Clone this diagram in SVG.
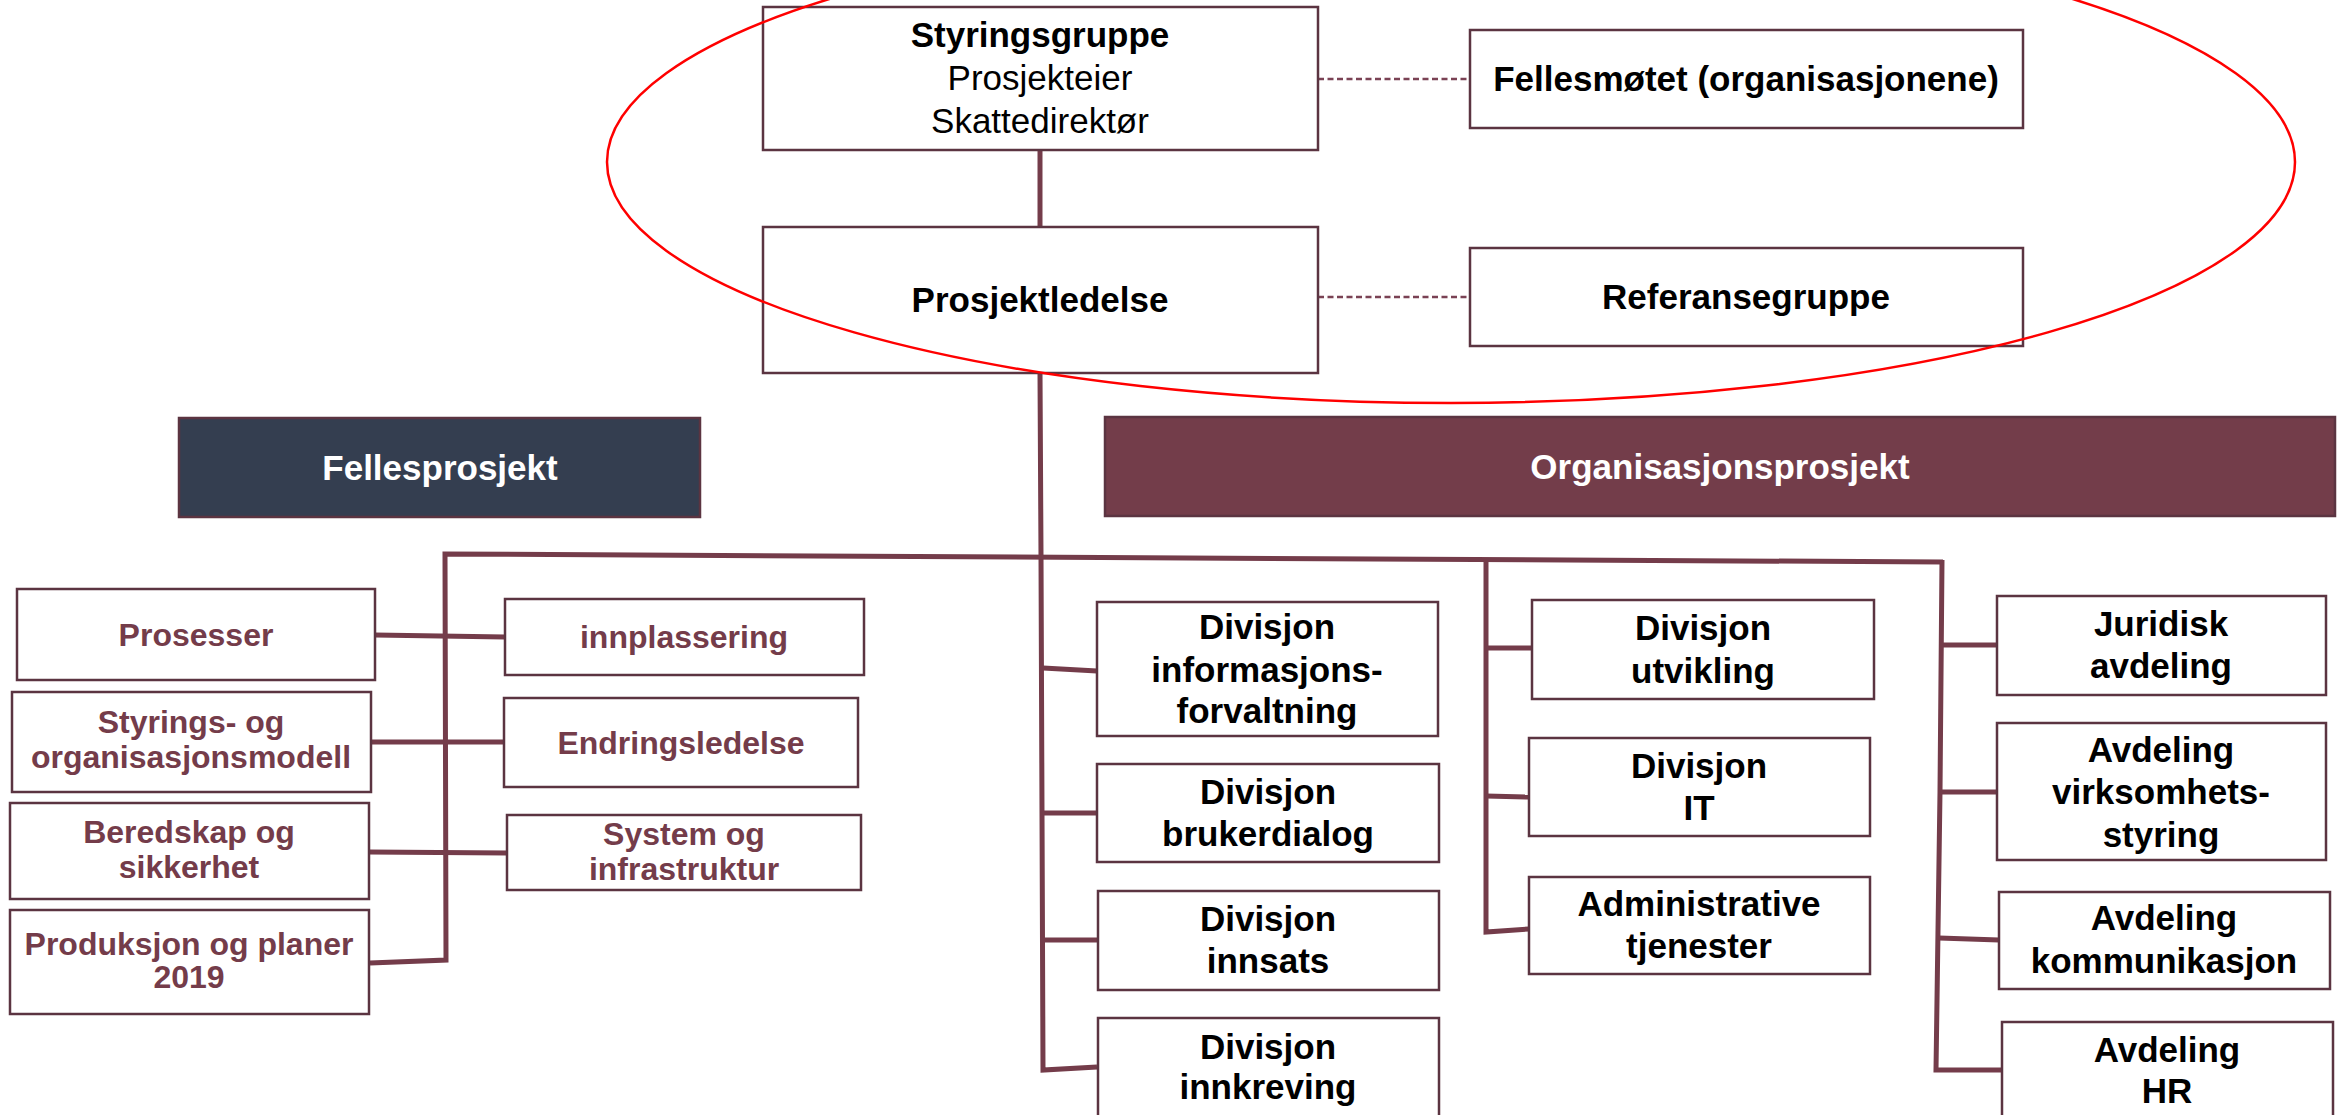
<svg xmlns="http://www.w3.org/2000/svg" width="2341" height="1115" viewBox="0 0 2341 1115">
<style>
.box{fill:#ffffff;stroke:#5b3441;stroke-width:2.5}
.t{font-family:"Liberation Sans",Arial,sans-serif;font-weight:bold;font-size:35px;fill:#000;text-anchor:middle}
.r{font-weight:normal}
.m{font-family:"Liberation Sans",Arial,sans-serif;font-weight:bold;font-size:32px;fill:#743c4a;text-anchor:middle}
.w{fill:#ffffff}
.c{fill:none;stroke:#743c4a;stroke-width:5;stroke-linejoin:miter}
.d{fill:none;stroke:#7a4254;stroke-width:2.5;stroke-dasharray:6 3.5}
</style>
<rect width="2341" height="1115" fill="#ffffff"/>
<g id="connectors">
<polyline class="c" points="1040,150 1040,227"/>
<polyline class="c" points="1040,373 1041,556 1043,1070 1097,1067"/>
<polyline class="c" points="370,963 446,960 445,554 1943,562"/>
<polyline class="c" points="1942,560 1940,792 1936,1070 2002,1070"/>
<polyline class="c" points="1486,558 1486,932 1529,929"/>
<line class="c" x1="375" y1="635" x2="505" y2="637"/>
<line class="c" x1="371" y1="742" x2="504" y2="742"/>
<line class="c" x1="369" y1="852" x2="507" y2="853"/>
<line class="c" x1="1043" y1="668" x2="1097" y2="671"/>
<line class="c" x1="1043" y1="813" x2="1097" y2="813"/>
<line class="c" x1="1043" y1="940" x2="1098" y2="940"/>
<line class="c" x1="1486" y1="648" x2="1532" y2="648"/>
<line class="c" x1="1486" y1="796" x2="1529" y2="797"/>
<line class="c" x1="1942" y1="645" x2="1997" y2="645"/>
<line class="c" x1="1940" y1="792" x2="1997" y2="792"/>
<line class="c" x1="1939" y1="938" x2="1999" y2="940"/>
<line class="d" x1="1318" y1="79" x2="1470" y2="79"/>
<line class="d" x1="1318" y1="297" x2="1470" y2="297"/>
</g>
<g id="styringsgruppe">
<rect class="box" x="763" y="7" width="555" height="143"/>
<text class="t" x="1040" y="47">Styringsgruppe</text>
<text class="t r" x="1040" y="90">Prosjekteier</text>
<text class="t r" x="1040" y="133">Skattedirektør</text>
</g>
<g id="fellesmotet">
<rect class="box" x="1470" y="30" width="553" height="98"/>
<text class="t" x="1746" y="91">Fellesmøtet (organisasjonene)</text>
</g>
<g id="prosjektledelse">
<rect class="box" x="763" y="227" width="555" height="146"/>
<text class="t" x="1040" y="312">Prosjektledelse</text>
</g>
<g id="referansegruppe">
<rect class="box" x="1470" y="248" width="553" height="98"/>
<text class="t" x="1746" y="309">Referansegruppe</text>
</g>
<g id="fellesprosjekt">
<rect x="179" y="418" width="521" height="99" fill="#343e50" stroke="#5b3441" stroke-width="2.5"/>
<text class="t w" x="440" y="480">Fellesprosjekt</text>
</g>
<g id="organisasjonsprosjekt">
<rect x="1105" y="417" width="1230" height="99" fill="#733d4a" stroke="#5b3441" stroke-width="2.5"/>
<text class="t w" x="1720" y="479">Organisasjonsprosjekt</text>
</g>
<g id="prosesser">
<rect class="box" x="17" y="589" width="358" height="91"/>
<text class="m" x="196" y="646">Prosesser</text>
</g>
<g id="styringsmodell">
<rect class="box" x="12" y="692" width="359" height="100"/>
<text class="m" x="191" y="733">Styrings- og</text>
<text class="m" x="191" y="768">organisasjonsmodell</text>
</g>
<g id="beredskap">
<rect class="box" x="10" y="803" width="359" height="96"/>
<text class="m" x="189" y="843">Beredskap og</text>
<text class="m" x="189" y="878">sikkerhet</text>
</g>
<g id="produksjon">
<rect class="box" x="10" y="910" width="359" height="104"/>
<text class="m" x="189" y="955">Produksjon og planer</text>
<text class="m" x="189" y="988">2019</text>
</g>
<g id="innplassering">
<rect class="box" x="505" y="599" width="359" height="76"/>
<text class="m" x="684" y="648">innplassering</text>
</g>
<g id="endringsledelse">
<rect class="box" x="504" y="698" width="354" height="89"/>
<text class="m" x="681" y="754">Endringsledelse</text>
</g>
<g id="system">
<rect class="box" x="507" y="815" width="354" height="75"/>
<text class="m" x="684" y="845">System og</text>
<text class="m" x="684" y="880">infrastruktur</text>
</g>
<g id="div-informasjon">
<rect class="box" x="1097" y="602" width="341" height="134"/>
<text class="t" x="1267" y="639">Divisjon</text>
<text class="t" x="1267" y="682">informasjons-</text>
<text class="t" x="1267" y="723">forvaltning</text>
</g>
<g id="div-brukerdialog">
<rect class="box" x="1097" y="764" width="342" height="98"/>
<text class="t" x="1268" y="804">Divisjon</text>
<text class="t" x="1268" y="846">brukerdialog</text>
</g>
<g id="div-innsats">
<rect class="box" x="1098" y="891" width="341" height="99"/>
<text class="t" x="1268" y="931">Divisjon</text>
<text class="t" x="1268" y="973">innsats</text>
</g>
<g id="div-innkreving">
<rect class="box" x="1098" y="1018" width="341" height="120"/>
<text class="t" x="1268" y="1059">Divisjon</text>
<text class="t" x="1268" y="1099">innkreving</text>
</g>
<g id="div-utvikling">
<rect class="box" x="1532" y="600" width="342" height="99"/>
<text class="t" x="1703" y="640">Divisjon</text>
<text class="t" x="1703" y="683">utvikling</text>
</g>
<g id="div-it">
<rect class="box" x="1529" y="738" width="341" height="98"/>
<text class="t" x="1699" y="778">Divisjon</text>
<text class="t" x="1699" y="820">IT</text>
</g>
<g id="administrative">
<rect class="box" x="1529" y="877" width="341" height="97"/>
<text class="t" x="1699" y="916">Administrative</text>
<text class="t" x="1699" y="958">tjenester</text>
</g>
<g id="juridisk">
<rect class="box" x="1997" y="596" width="329" height="99"/>
<text class="t" x="2161" y="636">Juridisk</text>
<text class="t" x="2161" y="678">avdeling</text>
</g>
<g id="virksomhetsstyring">
<rect class="box" x="1997" y="723" width="329" height="137"/>
<text class="t" x="2161" y="762">Avdeling</text>
<text class="t" x="2161" y="804">virksomhets-</text>
<text class="t" x="2161" y="847">styring</text>
</g>
<g id="kommunikasjon">
<rect class="box" x="1999" y="892" width="331" height="97"/>
<text class="t" x="2164" y="930">Avdeling</text>
<text class="t" x="2164" y="973">kommunikasjon</text>
</g>
<g id="hr">
<rect class="box" x="2002" y="1022" width="331" height="120"/>
<text class="t" x="2167" y="1062">Avdeling</text>
<text class="t" x="2167" y="1103">HR</text>
</g>
<ellipse cx="1451" cy="162" rx="844" ry="241" fill="none" stroke="#ff0000" stroke-width="2.5"/>
</svg>
